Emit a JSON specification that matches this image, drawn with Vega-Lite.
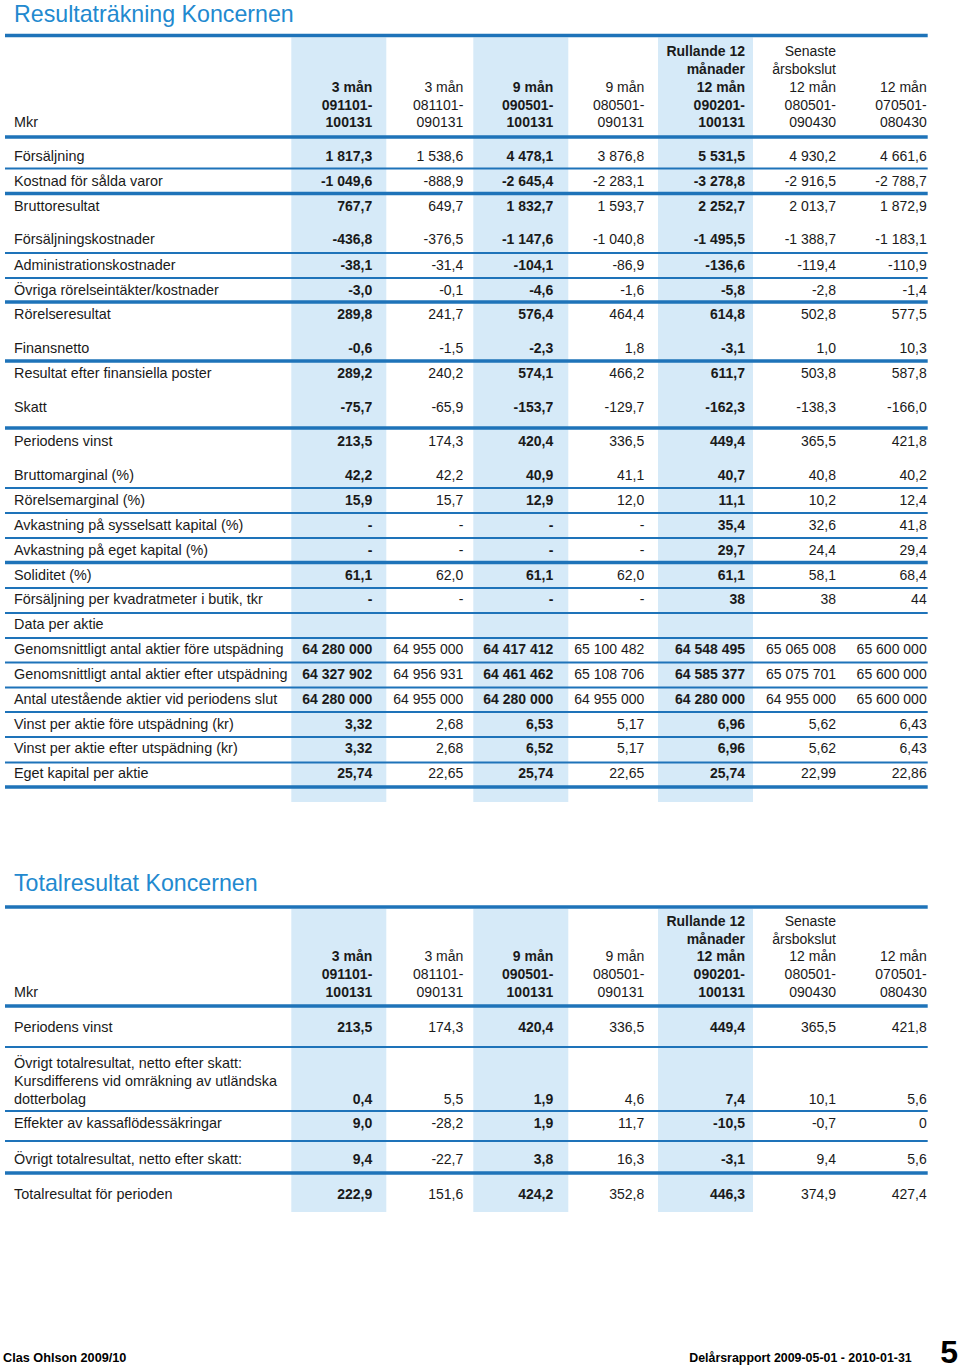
{
  "$schema": "https://vega.github.io/schema/vega-lite/v6.json",
  "width": 960,
  "height": 1370,
  "autosize": {"type": "none"},
  "padding": 0,
  "background": "white",
  "config": {"view": {"stroke": null}, "text": {"font": "Liberation Sans", "fontSize": 14, "color": "#1a1a1a", "baseline": "middle", "dy": 0.8}},
  "datasets": {
    "rows": [
      {"r":3,"l":"","v1":"","v2":"","v3":"","v4":"","v5":"Rullande 12","v6":"Senaste","v7":""},
      {"r":4,"l":"","v1":"","v2":"","v3":"","v4":"","v5":"månader","v6":"årsbokslut","v7":""},
      {"r":5,"l":"","v1":"3 mån","v2":"3 mån","v3":"9 mån","v4":"9 mån","v5":"12 mån","v6":"12 mån","v7":"12 mån"},
      {"r":6,"l":"","v1":"091101-","v2":"081101-","v3":"090501-","v4":"080501-","v5":"090201-","v6":"080501-","v7":"070501-"},
      {"r":7,"l":"Mkr","v1":"100131","v2":"090131","v3":"100131","v4":"090131","v5":"100131","v6":"090430","v7":"080430"},
      {"r":9,"l":"Försäljning","v1":"1 817,3","v2":"1 538,6","v3":"4 478,1","v4":"3 876,8","v5":"5 531,5","v6":"4 930,2","v7":"4 661,6"},
      {"r":11,"l":"Kostnad för sålda varor","v1":"-1 049,6","v2":"-888,9","v3":"-2 645,4","v4":"-2 283,1","v5":"-3 278,8","v6":"-2 916,5","v7":"-2 788,7"},
      {"r":13,"l":"Bruttoresultat","v1":"767,7","v2":"649,7","v3":"1 832,7","v4":"1 593,7","v5":"2 252,7","v6":"2 013,7","v7":"1 872,9"},
      {"r":14,"l":"Försäljningskostnader","v1":"-436,8","v2":"-376,5","v3":"-1 147,6","v4":"-1 040,8","v5":"-1 495,5","v6":"-1 388,7","v7":"-1 183,1"},
      {"r":16,"l":"Administrationskostnader","v1":"-38,1","v2":"-31,4","v3":"-104,1","v4":"-86,9","v5":"-136,6","v6":"-119,4","v7":"-110,9"},
      {"r":18,"l":"Övriga rörelseintäkter/kostnader","v1":"-3,0","v2":"-0,1","v3":"-4,6","v4":"-1,6","v5":"-5,8","v6":"-2,8","v7":"-1,4"},
      {"r":20,"l":"Rörelseresultat","v1":"289,8","v2":"241,7","v3":"576,4","v4":"464,4","v5":"614,8","v6":"502,8","v7":"577,5"},
      {"r":21,"l":"Finansnetto","v1":"-0,6","v2":"-1,5","v3":"-2,3","v4":"1,8","v5":"-3,1","v6":"1,0","v7":"10,3"},
      {"r":23,"l":"Resultat efter finansiella poster","v1":"289,2","v2":"240,2","v3":"574,1","v4":"466,2","v5":"611,7","v6":"503,8","v7":"587,8"},
      {"r":24,"l":"Skatt","v1":"-75,7","v2":"-65,9","v3":"-153,7","v4":"-129,7","v5":"-162,3","v6":"-138,3","v7":"-166,0"},
      {"r":26,"l":"Periodens vinst","v1":"213,5","v2":"174,3","v3":"420,4","v4":"336,5","v5":"449,4","v6":"365,5","v7":"421,8"},
      {"r":27,"l":"Bruttomarginal (%)","v1":"42,2","v2":"42,2","v3":"40,9","v4":"41,1","v5":"40,7","v6":"40,8","v7":"40,2"},
      {"r":29,"l":"Rörelsemarginal (%)","v1":"15,9","v2":"15,7","v3":"12,9","v4":"12,0","v5":"11,1","v6":"10,2","v7":"12,4"},
      {"r":31,"l":"Avkastning på sysselsatt kapital (%)","v1":"-","v2":"-","v3":"-","v4":"-","v5":"35,4","v6":"32,6","v7":"41,8"},
      {"r":33,"l":"Avkastning på eget kapital (%)","v1":"-","v2":"-","v3":"-","v4":"-","v5":"29,7","v6":"24,4","v7":"29,4"},
      {"r":35,"l":"Soliditet (%)","v1":"61,1","v2":"62,0","v3":"61,1","v4":"62,0","v5":"61,1","v6":"58,1","v7":"68,4"},
      {"r":37,"l":"Försäljning per kvadratmeter i butik, tkr","v1":"-","v2":"-","v3":"-","v4":"-","v5":"38","v6":"38","v7":"44"},
      {"r":39,"l":"Data per aktie","v1":"","v2":"","v3":"","v4":"","v5":"","v6":"","v7":""},
      {"r":41,"l":"Genomsnittligt antal aktier före utspädning","v1":"64 280 000","v2":"64 955 000","v3":"64 417 412","v4":"65 100 482","v5":"64 548 495","v6":"65 065 008","v7":"65 600 000"},
      {"r":43,"l":"Genomsnittligt antal aktier efter utspädning","v1":"64 327 902","v2":"64 956 931","v3":"64 461 462","v4":"65 108 706","v5":"64 585 377","v6":"65 075 701","v7":"65 600 000"},
      {"r":45,"l":"Antal utestående aktier vid periodens slut","v1":"64 280 000","v2":"64 955 000","v3":"64 280 000","v4":"64 955 000","v5":"64 280 000","v6":"64 955 000","v7":"65 600 000"},
      {"r":47,"l":"Vinst per aktie före utspädning (kr)","v1":"3,32","v2":"2,68","v3":"6,53","v4":"5,17","v5":"6,96","v6":"5,62","v7":"6,43"},
      {"r":49,"l":"Vinst per aktie efter utspädning (kr)","v1":"3,32","v2":"2,68","v3":"6,52","v4":"5,17","v5":"6,96","v6":"5,62","v7":"6,43"},
      {"r":51,"l":"Eget kapital per aktie","v1":"25,74","v2":"22,65","v3":"25,74","v4":"22,65","v5":"25,74","v6":"22,99","v7":"22,86"},
      {"r":57,"l":"","v1":"","v2":"","v3":"","v4":"","v5":"Rullande 12","v6":"Senaste","v7":""},
      {"r":58,"l":"","v1":"","v2":"","v3":"","v4":"","v5":"månader","v6":"årsbokslut","v7":""},
      {"r":59,"l":"","v1":"3 mån","v2":"3 mån","v3":"9 mån","v4":"9 mån","v5":"12 mån","v6":"12 mån","v7":"12 mån"},
      {"r":60,"l":"","v1":"091101-","v2":"081101-","v3":"090501-","v4":"080501-","v5":"090201-","v6":"080501-","v7":"070501-"},
      {"r":61,"l":"Mkr","v1":"100131","v2":"090131","v3":"100131","v4":"090131","v5":"100131","v6":"090430","v7":"080430"},
      {"r":63,"l":"Periodens vinst","v1":"213,5","v2":"174,3","v3":"420,4","v4":"336,5","v5":"449,4","v6":"365,5","v7":"421,8"},
      {"r":65,"l":"Övrigt totalresultat, netto efter skatt:","v1":"","v2":"","v3":"","v4":"","v5":"","v6":"","v7":""},
      {"r":66,"l":"Kursdifferens vid omräkning av utländska","v1":"","v2":"","v3":"","v4":"","v5":"","v6":"","v7":""},
      {"r":67,"l":"dotterbolag","v1":"0,4","v2":"5,5","v3":"1,9","v4":"4,6","v5":"7,4","v6":"10,1","v7":"5,6"},
      {"r":69,"l":"Effekter av kassaflödessäkringar","v1":"9,0","v2":"-28,2","v3":"1,9","v4":"11,7","v5":"-10,5","v6":"-0,7","v7":"0"},
      {"r":71,"l":"Övrigt totalresultat, netto efter skatt:","v1":"9,4","v2":"-22,7","v3":"3,8","v4":"16,3","v5":"-3,1","v6":"9,4","v7":"5,6"},
      {"r":73,"l":"Totalresultat för perioden","v1":"222,9","v2":"151,6","v3":"424,2","v4":"352,8","v5":"446,3","v6":"374,9","v7":"427,4"}
    ],
    "rules": [
      {"r":1,"major":true},{"r":8,"major":true},{"r":10,"major":false},{"r":12,"major":true},
      {"r":15,"major":false},{"r":17,"major":false},{"r":19,"major":true},{"r":22,"major":true},
      {"r":25,"major":true},{"r":28,"major":false},{"r":30,"major":false},{"r":32,"major":false},
      {"r":34,"major":true},{"r":36,"major":false},{"r":38,"major":false},{"r":40,"major":false},
      {"r":42,"major":false},{"r":44,"major":false},{"r":46,"major":false},{"r":48,"major":false},
      {"r":50,"major":false},{"r":52,"major":true},{"r":55,"major":true},{"r":62,"major":true},
      {"r":64,"major":false},{"r":68,"major":false},{"r":70,"major":false},{"r":72,"major":true}
    ],
    "bands": [{"r0":2,"r1":53},{"r0":56,"r1":74}],
    "titles": [{"r":0,"t":"Resultaträkning Koncernen"},{"r":54,"t":"Totalresultat Koncernen"}]
  },
  "encoding": {
    "y": {"field": "r", "type": "quantitative", "axis": null,
      "scale": {"domain": [0,1,2,3,4,5,6,7,8,9,10,11,12,13,14,15,16,17,18,19,20,21,22,23,24,25,26,27,28,29,30,31,32,33,34,35,36,37,38,39,40,41,42,43,44,45,46,47,48,49,50,51,52,53,54,55,56,57,58,59,60,61,62,63,64,65,66,67,68,69,70,71,72,73,74,75],
        "range": [14,35.5,37.5,51.5,69,87,105,122.5,137,156,168.5,181,193.5,206,239.5,253,265,278,290,302,314.5,348,361,373,407,428,441,475,488,500,513,525,538,550,562.5,575,588,599.5,613,624,638,649,662.5,674,687.5,699,712,724,737,748.5,762.5,773,787,802,883,907,909,921,939,956.5,974.5,992,1006,1027,1047,1063,1081,1099,1111,1123,1141,1159,1173,1194,1212,1362],
        "nice": false, "zero": false}}
  },
  "layer": [
    {"data": {"name": "bands"}, "mark": {"type": "rect", "color": "#d6eaf8", "xOffset": -81, "x2Offset": 14},
     "encoding": {"x": {"datum": 1, "type": "quantitative", "axis": null, "scale": {"domain": [-1,0,1,2,3,4,5,6,7,8], "range": [5,14,372.3,463.3,553.3,644.3,745,836,926.7,958], "nice": false, "zero": false}},
       "x2": {"datum": 1},
       "y": {"field": "r0", "type": "quantitative", "axis": null}, "y2": {"field": "r1"}}},
    {"data": {"name": "bands"}, "mark": {"type": "rect", "color": "#d6eaf8", "xOffset": -80, "x2Offset": 15},
     "encoding": {"x": {"datum": 3, "type": "quantitative", "axis": null, "scale": {"domain": [-1,0,1,2,3,4,5,6,7,8], "range": [5,14,372.3,463.3,553.3,644.3,745,836,926.7,958], "nice": false, "zero": false}},
       "x2": {"datum": 3},
       "y": {"field": "r0", "type": "quantitative", "axis": null}, "y2": {"field": "r1"}}},
    {"data": {"name": "bands"}, "mark": {"type": "rect", "color": "#d6eaf8", "xOffset": -87, "x2Offset": 8},
     "encoding": {"x": {"datum": 5, "type": "quantitative", "axis": null, "scale": {"domain": [-1,0,1,2,3,4,5,6,7,8], "range": [5,14,372.3,463.3,553.3,644.3,745,836,926.7,958], "nice": false, "zero": false}},
       "x2": {"datum": 5},
       "y": {"field": "r0", "type": "quantitative", "axis": null}, "y2": {"field": "r1"}}},
    {"data": {"name": "rules"}, "transform": [{"filter": "!datum.major"}],
     "mark": {"type": "rule", "color": "#1e73b9", "strokeWidth": 2, "x2Offset": 1},
     "encoding": {"x": {"datum": -1, "type": "quantitative", "axis": null, "scale": {"domain": [-1,0,1,2,3,4,5,6,7,8], "range": [5,14,372.3,463.3,553.3,644.3,745,836,926.7,958], "nice": false, "zero": false}},
       "x2": {"datum": 7}}},
    {"data": {"name": "rules"}, "transform": [{"filter": "datum.major"}],
     "mark": {"type": "rule", "color": "#1e73b9", "strokeWidth": 3.5, "x2Offset": 1},
     "encoding": {"x": {"datum": -1, "type": "quantitative", "axis": null, "scale": {"domain": [-1,0,1,2,3,4,5,6,7,8], "range": [5,14,372.3,463.3,553.3,644.3,745,836,926.7,958], "nice": false, "zero": false}},
       "x2": {"datum": 7}}},
    {"data": {"name": "titles"}, "mark": {"type": "text", "align": "left", "fontSize": 23.2, "color": "#2289cf", "dy": 0.5},
     "encoding": {"x": {"datum": 0, "type": "quantitative", "axis": null, "scale": {"domain": [-1,0,1,2,3,4,5,6,7,8], "range": [5,14,372.3,463.3,553.3,644.3,745,836,926.7,958], "nice": false, "zero": false}},
       "text": {"field": "t", "type": "nominal"}}},
    {"data": {"name": "rows"}, "mark": {"type": "text", "align": "left", "fontSize": 14.4},
     "encoding": {"x": {"datum": 0, "type": "quantitative", "axis": null, "scale": {"domain": [-1,0,1,2,3,4,5,6,7,8], "range": [5,14,372.3,463.3,553.3,644.3,745,836,926.7,958], "nice": false, "zero": false}},
       "text": {"field": "l", "type": "nominal"}}},
    {"data": {"name": "rows"}, "mark": {"type": "text", "align": "right", "fontWeight": "bold"},
     "encoding": {"x": {"datum": 1, "type": "quantitative", "axis": null, "scale": {"domain": [-1,0,1,2,3,4,5,6,7,8], "range": [5,14,372.3,463.3,553.3,644.3,745,836,926.7,958], "nice": false, "zero": false}},
       "text": {"field": "v1", "type": "nominal"}}},
    {"data": {"name": "rows"}, "mark": {"type": "text", "align": "right"},
     "encoding": {"x": {"datum": 2, "type": "quantitative", "axis": null, "scale": {"domain": [-1,0,1,2,3,4,5,6,7,8], "range": [5,14,372.3,463.3,553.3,644.3,745,836,926.7,958], "nice": false, "zero": false}},
       "text": {"field": "v2", "type": "nominal"}}},
    {"data": {"name": "rows"}, "mark": {"type": "text", "align": "right", "fontWeight": "bold"},
     "encoding": {"x": {"datum": 3, "type": "quantitative", "axis": null, "scale": {"domain": [-1,0,1,2,3,4,5,6,7,8], "range": [5,14,372.3,463.3,553.3,644.3,745,836,926.7,958], "nice": false, "zero": false}},
       "text": {"field": "v3", "type": "nominal"}}},
    {"data": {"name": "rows"}, "mark": {"type": "text", "align": "right"},
     "encoding": {"x": {"datum": 4, "type": "quantitative", "axis": null, "scale": {"domain": [-1,0,1,2,3,4,5,6,7,8], "range": [5,14,372.3,463.3,553.3,644.3,745,836,926.7,958], "nice": false, "zero": false}},
       "text": {"field": "v4", "type": "nominal"}}},
    {"data": {"name": "rows"}, "mark": {"type": "text", "align": "right", "fontWeight": "bold"},
     "encoding": {"x": {"datum": 5, "type": "quantitative", "axis": null, "scale": {"domain": [-1,0,1,2,3,4,5,6,7,8], "range": [5,14,372.3,463.3,553.3,644.3,745,836,926.7,958], "nice": false, "zero": false}},
       "text": {"field": "v5", "type": "nominal"}}},
    {"data": {"name": "rows"}, "mark": {"type": "text", "align": "right"},
     "encoding": {"x": {"datum": 6, "type": "quantitative", "axis": null, "scale": {"domain": [-1,0,1,2,3,4,5,6,7,8], "range": [5,14,372.3,463.3,553.3,644.3,745,836,926.7,958], "nice": false, "zero": false}},
       "text": {"field": "v6", "type": "nominal"}}},
    {"data": {"name": "rows"}, "mark": {"type": "text", "align": "right"},
     "encoding": {"x": {"datum": 7, "type": "quantitative", "axis": null, "scale": {"domain": [-1,0,1,2,3,4,5,6,7,8], "range": [5,14,372.3,463.3,553.3,644.3,745,836,926.7,958], "nice": false, "zero": false}},
       "text": {"field": "v7", "type": "nominal"}}},
    {"data": {"values": [{"r": 75, "t": "Clas Ohlson 2009/10"}]},
     "mark": {"type": "text", "align": "left", "baseline": "alphabetic", "fontSize": 12.7, "fontWeight": "bold", "dx": -2, "dy": 0, "color": "#000000"},
     "encoding": {"x": {"datum": -1, "type": "quantitative", "axis": null, "scale": {"domain": [-1,0,1,2,3,4,5,6,7,8], "range": [5,14,372.3,463.3,553.3,644.3,745,836,926.7,958], "nice": false, "zero": false}},
       "text": {"field": "t", "type": "nominal"}}},
    {"data": {"values": [{"r": 75, "t": "Delårsrapport 2009-05-01 - 2010-01-31"}]},
     "mark": {"type": "text", "align": "right", "baseline": "alphabetic", "fontSize": 12.4, "fontWeight": "bold", "dx": -15, "dy": 0, "color": "#000000"},
     "encoding": {"x": {"datum": 7, "type": "quantitative", "axis": null, "scale": {"domain": [-1,0,1,2,3,4,5,6,7,8], "range": [5,14,372.3,463.3,553.3,644.3,745,836,926.7,958], "nice": false, "zero": false}},
       "text": {"field": "t", "type": "nominal"}}},
    {"data": {"values": [{"r": 75, "t": "5"}]},
     "mark": {"type": "text", "align": "right", "baseline": "alphabetic", "fontSize": 32, "fontWeight": "bold", "dy": 1, "color": "#000000"},
     "encoding": {"x": {"datum": 8, "type": "quantitative", "axis": null, "scale": {"domain": [-1,0,1,2,3,4,5,6,7,8], "range": [5,14,372.3,463.3,553.3,644.3,745,836,926.7,958], "nice": false, "zero": false}},
       "text": {"field": "t", "type": "nominal"}}}
  ]
}
